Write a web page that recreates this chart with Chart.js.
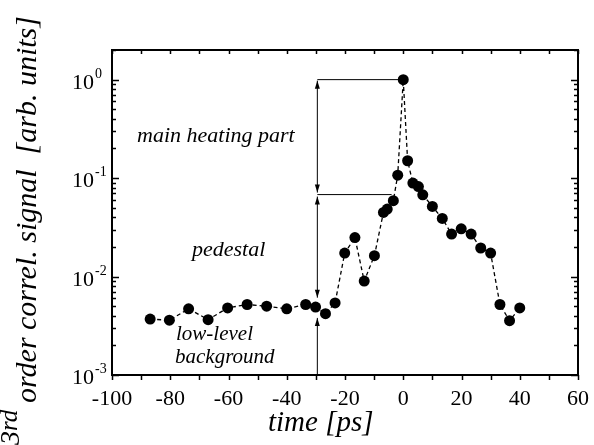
<!DOCTYPE html>
<html>
<head>
<meta charset="utf-8">
<script src="https://cdn.jsdelivr.net/npm/chart.js@4.4.1/dist/chart.umd.min.js"></script>
<style>
  html, body { margin: 0; padding: 0; background: #fff; }
  #c { display: block; }
</style>
</head>
<body>
<canvas id="c" width="594" height="445"></canvas>
<script>
// measured points (time in ps, normalised 3rd order correlation signal)
const timePs = [-86.9, -80.3, -73.7, -67.0, -60.3, -53.6, -46.9, -40.0, -33.5, -30.1,
    -26.7, -23.4, -20.1, -16.6, -13.4, -9.9, -6.8, -5.5, -3.4, -1.9,
    0.0, 1.5, 3.3, 5.2, 6.7, 10.0, 13.4, 16.6, 19.9, 23.3,
    26.6, 30.0, 33.2, 36.5, 40.0];
const signal = [0.0037, 0.0036, 0.0047, 0.00365, 0.0048, 0.0052, 0.0050, 0.0047, 0.0052, 0.0049,
    0.0042, 0.0054, 0.0173, 0.0249, 0.0090, 0.0163, 0.0448, 0.0485, 0.0589, 0.107,
    1.0, 0.150, 0.089, 0.082, 0.0677, 0.0515, 0.0389, 0.027, 0.0305, 0.027,
    0.0195, 0.0173, 0.0052, 0.00356, 0.0048];

// axis ticks
const xTicks = [-100, -80, -60, -40, -20, 0, 20, 40, 60];
const xMinorTicks = [-90, -70, -50, -30, -10, 10, 30, 50];
const yTicks = [0.001, 0.01, 0.1, 1];
const yTickExp = ['-3', '-2', '-1', '0'];

// annotation levels (arrows at t = -29.5 ps)
const arrowTime = -29.5;
const peakLevel = 1.0;
const pedestalTop = 0.068;
const pedestalBottom = 0.0061;
const backgroundTop = 0.0038;
const shoulderTime = -4.0;

const serif = '"Liberation Serif", "DejaVu Serif", serif';

function arrowHead(ctx, x, y, dir) {
    // dir = -1 points up, 1 points down
    ctx.beginPath();
    ctx.moveTo(x, y);
    ctx.lineTo(x - 2.5, y - dir * 8);
    ctx.lineTo(x + 2.5, y - dir * 8);
    ctx.closePath();
    ctx.fill();
}

const annotations = {
    id: 'annotations',
    beforeDatasetsDraw(chart) {
        const ctx = chart.ctx;
        const xs = chart.scales.x, ys = chart.scales.y;
        const ax = xs.getPixelForValue(arrowTime);
        const yPeak = ys.getPixelForValue(peakLevel);
        const yPed = ys.getPixelForValue(pedestalTop);
        const yPedB = ys.getPixelForValue(pedestalBottom);
        const yBg = ys.getPixelForValue(backgroundTop);
        const yBot = ys.bottom;
        ctx.save();
        ctx.strokeStyle = '#000';
        ctx.fillStyle = '#000';
        ctx.lineWidth = 1;
        ctx.beginPath();
        ctx.moveTo(ax, yPeak); ctx.lineTo(xs.getPixelForValue(0), yPeak);
        ctx.moveTo(ax, yPed); ctx.lineTo(xs.getPixelForValue(shoulderTime), yPed);
        ctx.moveTo(ax, yPeak + 1); ctx.lineTo(ax, yPed - 2);
        ctx.moveTo(ax, yPed + 2); ctx.lineTo(ax, yPedB);
        ctx.moveTo(ax, yBg); ctx.lineTo(ax, yBot);
        ctx.stroke();
        arrowHead(ctx, ax, yPeak + 1, -1);
        arrowHead(ctx, ax, yPed - 2, 1);
        arrowHead(ctx, ax, yPed + 2, -1);
        arrowHead(ctx, ax, yPedB, 1);
        arrowHead(ctx, ax, yBg, -1);

        ctx.font = 'italic 22px ' + serif;
        ctx.textAlign = 'left';
        ctx.textBaseline = 'alphabetic';
        ctx.fillText('main heating part', 137, 142);
        ctx.fillText('pedestal', 192, 256);
        ctx.font = 'italic 21px ' + serif;
        ctx.fillText('low-level', 176, 340);
        ctx.fillText('background', 175, 363);
        ctx.restore();
    }
};

const frame = {
    id: 'frame',
    afterDraw(chart) {
        const ctx = chart.ctx;
        const xs = chart.scales.x, ys = chart.scales.y;
        const a = chart.chartArea;
        ctx.save();
        ctx.strokeStyle = '#000';
        ctx.fillStyle = '#000';
        ctx.lineWidth = 2;
        ctx.strokeRect(a.left, a.top, a.right - a.left, a.bottom - a.top);

        // x ticks: bottom outward, top inward
        ctx.lineWidth = 1.5;
        ctx.beginPath();
        xTicks.concat(xMinorTicks).forEach(v => {
            const px = Math.round(xs.getPixelForValue(v)) + 0.5;
            ctx.moveTo(px, a.bottom); ctx.lineTo(px, a.bottom + 5);
            ctx.moveTo(px, a.top); ctx.lineTo(px, a.top + 4);
        });
        // y log ticks, inward on both sides
        for (let e = -3; e <= 0; e++) {
            for (let m = 1; m <= 9; m++) {
                const v = m * Math.pow(10, e);
                if (v > ys.max) break;
                const py = Math.round(ys.getPixelForValue(v)) + 0.5;
                const len = m === 1 ? 7 : 4;
                ctx.moveTo(a.left, py); ctx.lineTo(a.left + len, py);
                ctx.moveTo(a.right, py); ctx.lineTo(a.right - len, py);
            }
        }
        ctx.stroke();

        // x tick labels
        ctx.font = '22px ' + serif;
        ctx.textAlign = 'center';
        ctx.textBaseline = 'alphabetic';
        xTicks.forEach(v => ctx.fillText(String(v), xs.getPixelForValue(v), 405));

        // y tick labels 10^n
        ctx.textAlign = 'left';
        yTicks.forEach((v, i) => {
            const py = ys.getPixelForValue(v);
            ctx.font = '22px ' + serif;
            ctx.fillText('10', 72, py + 9);
            ctx.font = '14px ' + serif;
            ctx.fillText(yTickExp[i], 95, py - 2);
        });

        // x title
        ctx.font = 'italic 29px ' + serif;
        ctx.textAlign = 'left';
        ctx.fillText('time [ps]', 268, 431);

        // y title
        ctx.translate(0, 445);
        ctx.rotate(-Math.PI / 2);
        ctx.font = 'italic 28px ' + serif;
        ctx.fillText('3', 0, 19);
        ctx.font = 'italic 25px ' + serif;
        ctx.fillText('rd', 14, 17);
        ctx.font = 'italic 30px ' + serif;
        ctx.fillText('order correl. signal  [arb. units]', 42, 36);
        ctx.restore();
    }
};

new Chart(document.getElementById('c'), {
    type: 'scatter',
    data: {
        datasets: [{
            data: timePs.map((t, i) => ({ x: t, y: signal[i] })),
            showLine: true,
            borderColor: '#000',
            borderWidth: 1.3,
            borderDash: [4, 3],
            backgroundColor: '#000',
            pointRadius: 5.5,
            pointBorderWidth: 0,
            tension: 0
        }]
    },
    options: {
        responsive: false,
        animation: false,
        devicePixelRatio: 1,
        layout: { padding: { left: 112, right: 16, top: 50, bottom: 70 } },
        plugins: { legend: { display: false }, tooltip: { enabled: false } },
        scales: {
            x: { type: 'linear', min: -100, max: 60, display: false },
            y: { type: 'logarithmic', min: 0.001, max: 2, display: false }
        }
    },
    plugins: [annotations, frame]
});
</script>
</body>
</html>
